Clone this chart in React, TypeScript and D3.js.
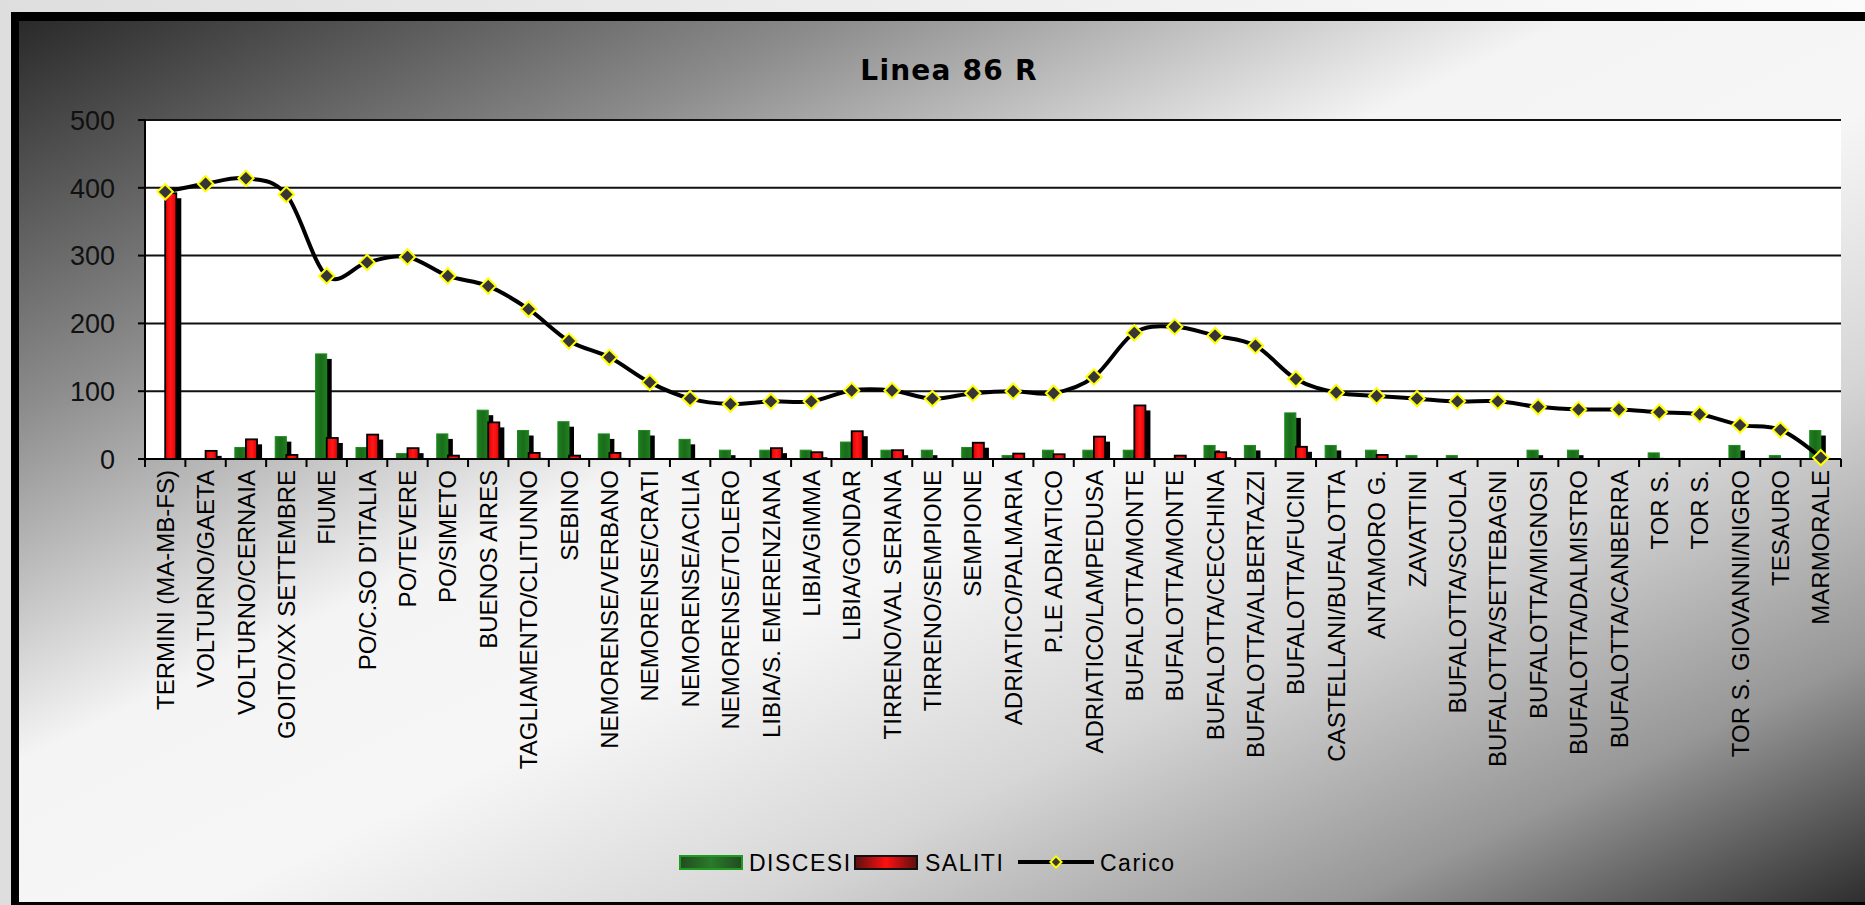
import React from "react";
import * as d3 from "d3";

const categories = [
  "TERMINI (MA-MB-FS)", "VOLTURNO/GAETA", "VOLTURNO/CERNAIA", "GOITO/XX SETTEMBRE", "FIUME",
  "PO/C.SO D'ITALIA", "PO/TEVERE", "PO/SIMETO", "BUENOS AIRES", "TAGLIAMENTO/CLITUNNO",
  "SEBINO", "NEMORENSE/VERBANO", "NEMORENSE/CRATI", "NEMORENSE/ACILIA", "NEMORENSE/TOLERO",
  "LIBIA/S. EMERENZIANA", "LIBIA/GIMMA", "LIBIA/GONDAR", "TIRRENO/VAL SERIANA", "TIRRENO/SEMPIONE",
  "SEMPIONE", "ADRIATICO/PALMARIA", "P.LE ADRIATICO", "ADRIATICO/LAMPEDUSA", "BUFALOTTA/MONTE",
  "BUFALOTTA/MONTE", "BUFALOTTA/CECCHINA", "BUFALOTTA/ALBERTAZZI", "BUFALOTTA/FUCINI", "CASTELLANI/BUFALOTTA",
  "ANTAMORO G.", "ZAVATTINI", "BUFALOTTA/SCUOLA", "BUFALOTTA/SETTEBAGNI", "BUFALOTTA/MIGNOSI",
  "BUFALOTTA/DALMISTRO", "BUFALOTTA/CANBERRA", "TOR S.", "TOR S.", "TOR S. GIOVANNI/NIGRO",
  "TESAURO", "MARMORALE",
];

const discesi = [
  0, 0, 17, 33, 155, 17, 8, 37, 72, 42,
  55, 37, 42, 29, 13, 13, 13, 25, 13, 13,
  17, 5, 13, 13, 13, 0, 20, 20, 68, 20,
  13, 5, 5, 0, 13, 13, 0, 9, 0, 20,
  5, 42,
];

const saliti = [
  392, 12, 29, 6, 31, 36, 16, 5, 54, 9,
  5, 9, 0, 0, 0, 16, 10, 41, 13, 0,
  24, 8, 7, 33, 79, 5, 10, 0, 18, 0,
  6, 0, 0, 0, 0, 0, 0, 0, 0, 0,
  0, 0,
];

const carico = [
  394, 406, 414, 390, 270, 290, 298, 270, 255, 221,
  174, 150, 113, 89, 81, 85, 85, 101, 101, 89,
  97, 100, 97, 121, 186, 195, 182, 167, 118, 98,
  93, 89, 85, 85, 77, 73, 73, 69, 66, 50,
  43, 2,
];

const yTicks = [0, 100, 200, 300, 400, 500];
const legendItems = ["DISCESI", "SALITI", "Carico"];

const W = 1865;
const H = 905;
const plot = { left: 145, right: 1841, top: 120, bottom: 459 };

export default function App() {
  const idx = categories.map((_, i) => String(i));
  const x = d3.scaleBand().domain(idx).range([plot.left, plot.right]).padding(0);
  const y = d3.scaleLinear().domain([0, 500]).range([plot.bottom, plot.top]);
  const bw = x.bandwidth();
  const barW = bw * 0.275;
  const sdx = 5;
  const sdy = 5;
  const cx = (i: number) => (x(String(i)) as number) + bw / 2;

  const line = d3
    .line<number>()
    .x((_, i) => cx(i))
    .y((d) => y(d))
    .curve(d3.curveCardinal.tension(0));

  const marker = d3.symbol(d3.symbolDiamond2, 150)() as string;
  const legendMarker = d3.symbol(d3.symbolDiamond2, 80)() as string;

  const labelFont = "'Liberation Sans', Arial, sans-serif";

  const bar = (i: number, v: number, left: number, kind: "g" | "r") => {
    if (v <= 0) return null;
    const top = y(v);
    const h = plot.bottom - top;
    const shTop = top + sdy;
    return (
      <g key={kind + i}>
        {plot.bottom - shTop > 0 && (
          <rect x={left + sdx} y={shTop} width={barW} height={plot.bottom - shTop} fill="#000" />
        )}
        <rect
          x={left}
          y={top}
          width={barW}
          height={h}
          fill={kind === "g" ? "url(#gBar)" : "url(#rBar)"}
          stroke={kind === "g" ? "#1e8a1e" : "#000"}
          strokeWidth={kind === "g" ? 1 : 1.8}
        />
      </g>
    );
  };

  return (
    <svg
      width={W}
      height={H}
      viewBox={`0 0 ${W} ${H}`}
      style={{ position: "absolute", left: 0, top: 0, display: "block" }}
    >
      <defs>
        <linearGradient id="outerBg" x1="0" y1="0" x2="1" y2="0">
          <stop offset="0" stopColor="#dedede" />
          <stop offset="1" stopColor="#fbfbfb" />
        </linearGradient>
        <linearGradient id="chartBg" x1="0" y1="0" x2="1" y2="1">
          <stop offset="0" stopColor="#2a2a2a" />
          <stop offset="0.22" stopColor="#8c8c8c" />
          <stop offset="0.42" stopColor="#f4f4f4" />
          <stop offset="0.55" stopColor="#f6f6f6" />
          <stop offset="0.7" stopColor="#d6d6d6" />
          <stop offset="0.86" stopColor="#979797" />
          <stop offset="1" stopColor="#2e2e2e" />
        </linearGradient>
        <linearGradient id="gBar" x1="0" y1="0" x2="1" y2="0">
          <stop offset="0" stopColor="#1f7f1f" />
          <stop offset="0.5" stopColor="#1a6c1a" />
          <stop offset="1" stopColor="#1f7f1f" />
        </linearGradient>
        <linearGradient id="rBar" x1="0" y1="0" x2="1" y2="0">
          <stop offset="0" stopColor="#e00000" />
          <stop offset="0.5" stopColor="#ff1a1a" />
          <stop offset="1" stopColor="#e00000" />
        </linearGradient>
        <linearGradient id="gLeg" x1="0" y1="0" x2="1" y2="0">
          <stop offset="0" stopColor="#234a23" />
          <stop offset="0.5" stopColor="#2a7a2a" />
          <stop offset="1" stopColor="#234a23" />
        </linearGradient>
        <linearGradient id="rLeg" x1="0" y1="0" x2="1" y2="0">
          <stop offset="0" stopColor="#5a1010" />
          <stop offset="0.5" stopColor="#ff1010" />
          <stop offset="1" stopColor="#5a1010" />
        </linearGradient>
      </defs>

      {/* page / frame */}
      <rect x={0} y={0} width={W} height={H} fill="url(#outerBg)" />
      <rect x={11} y={12} width={W - 11} height={H - 12} fill="#000" />
      <rect x={19} y={21} width={W - 19} height={881} fill="url(#chartBg)" />

      {/* title */}
      <text
        x={949}
        y={80}
        textAnchor="middle"
        fontFamily="'DejaVu Sans', Verdana, sans-serif"
        fontWeight="bold"
        fontSize={28}
        letterSpacing={1.2}
        fill="#000"
      >
        Linea 86 R
      </text>

      {/* plot area */}
      <rect x={plot.left} y={plot.top} width={plot.right - plot.left} height={plot.bottom - plot.top} fill="#fff" />

      {/* gridlines */}
      {yTicks
        .filter((t) => t > 0)
        .map((t) => (
          <line
            key={"g" + t}
            x1={plot.left}
            x2={plot.right}
            y1={y(t)}
            y2={y(t)}
            stroke="#111"
            strokeWidth={2}
          />
        ))}

      {/* bars */}
      {categories.map((_, i) => (
        <g key={"bars" + i}>
          {bar(i, discesi[i], cx(i) - barW, "g")}
          {bar(i, saliti[i], cx(i), "r")}
        </g>
      ))}

      {/* axes */}
      <line x1={plot.left} x2={plot.left} y1={plot.top} y2={plot.bottom + 8} stroke="#000" strokeWidth={2} />
      <line x1={plot.left - 7} x2={plot.right} y1={plot.bottom} y2={plot.bottom} stroke="#000" strokeWidth={2} />
      {yTicks.map((t) => (
        <g key={"yt" + t}>
          <line x1={plot.left - 7} x2={plot.left} y1={y(t)} y2={y(t)} stroke="#000" strokeWidth={2} />
          <text
            x={115}
            y={y(t)}
            dy="0.36em"
            textAnchor="end"
            fontFamily={labelFont}
            fontSize={27}
            fill="#111"
          >
            {t}
          </text>
        </g>
      ))}
      {categories.map((_, i) => (
        <line
          key={"xt" + i}
          x1={(x(String(i)) as number) + bw}
          x2={(x(String(i)) as number) + bw}
          y1={plot.bottom}
          y2={plot.bottom + 8}
          stroke="#000"
          strokeWidth={2}
        />
      ))}
      {categories.map((c, i) => (
        <text
          key={"xl" + i}
          transform={`translate(${cx(i)},${plot.bottom + 11}) rotate(-90)`}
          textAnchor="end"
          dy="0.36em"
          fontFamily={labelFont}
          fontSize={24}
          fill="#000"
        >
          {c}
        </text>
      ))}

      {/* line */}
      <path d={line(carico) as string} fill="none" stroke="#000" strokeWidth={4} />
      {carico.map((v, i) => (
        <path
          key={"m" + i}
          d={marker}
          transform={`translate(${cx(i)},${y(v)})`}
          fill="#363636"
          stroke="#ffff00"
          strokeWidth={2}
        />
      ))}

      {/* legend */}
      <g fontFamily={labelFont} fontSize={23} letterSpacing={1.5} fill="#000">
        <rect x={680} y={856} width={62} height={13} fill="url(#gLeg)" stroke="#1e9a1e" strokeWidth={2} />
        <text x={749} y={871}>{legendItems[0]}</text>
        <rect x={855} y={856} width={62} height={13} fill="url(#rLeg)" stroke="#111" strokeWidth={2} />
        <text x={925} y={871}>{legendItems[1]}</text>
        <line x1={1018} x2={1094} y1={862} y2={862} stroke="#000" strokeWidth={4} />
        <path d={legendMarker} transform="translate(1056,862)" fill="#363636" stroke="#ffff00" strokeWidth={2} />
        <text x={1100} y={871}>{legendItems[2]}</text>
      </g>
    </svg>
  );
}
